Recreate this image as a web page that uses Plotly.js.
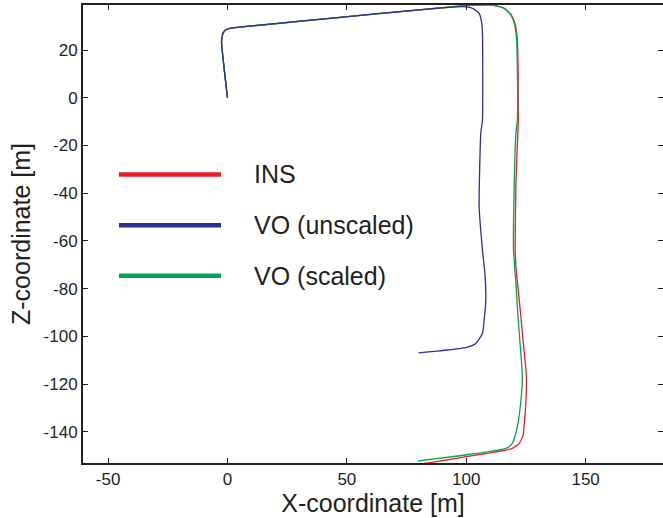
<!DOCTYPE html>
<html>
<head>
<meta charset="utf-8">
<script src="https://cdn.plot.ly/plotly-3.0.1.min.js"></script>
<style>html,body{margin:0;padding:0;background:#fff;}#chart{width:663px;height:518px;}</style>
</head>
<body>
<div id="chart"></div>
<script>
// Series names
const seriesNames = ["INS", "VO (unscaled)", "VO (scaled)"];
const seriesColors = ["#ed1c24", "#2e3192", "#00a651"];

// INS trajectory [m]
const insX = [0, -2.5, -2.3, -1.9, -0.7, 1.4, 4.9, 99.8, 109.6, 111.0, 115.9, 118.9, 120.4, 121.3, 121.7, 121.8, 121.6, 120.8, 120.5, 120.8, 122.2, 122.9, 123.5, 125.2, 125.0, 124.2, 123.8, 122.2, 119.3, 116.6, 82.4];
const insZ = [0, 23.5, 25.0, 27.0, 28.5, 29.2, 29.6, 38.7, 39.0, 38.9, 37.5, 34.7, 31.2, 25.6, 13.0, -9.4, -14.8, -35.8, -63.9, -71.0, -84.8, -91.9, -98.7, -117.0, -126.8, -137.9, -141.4, -144.9, -147.0, -147.7, -153.3];

// VO (unscaled) trajectory [m]
const voUnX = [0, -2.5, -2.3, -1.9, -0.7, 1.4, 4.9, 98.4, 102.6, 105.4, 106.5, 106.8, 106.9, 106.8, 106.1, 105.4, 106.8, 107.8, 108.2, 107.5, 106.8, 104.0, 99.8, 80.0];
const voUnZ = [0, 23.5, 25.0, 27.0, 28.5, 29.2, 29.6, 38.2, 37.5, 35.4, 31.2, 27.0, 13.0, -9.4, -14.8, -45.8, -63.9, -73.5, -84.8, -93.2, -98.7, -103.0, -104.7, -106.9];

// VO (scaled) trajectory [m]
const voScX = [0, -2.5, -2.3, -1.9, -0.7, 1.4, 4.9, 99.8, 109.6, 111.0, 115.9, 118.7, 120.1, 121.0, 121.4, 121.4, 120.8, 120.1, 119.8, 120.8, 121.7, 122.2, 123.5, 122.9, 121.4, 119.3, 116.6, 79.6];
const voScZ = [0, 23.5, 25.0, 27.0, 28.5, 29.2, 29.6, 38.7, 39.0, 38.9, 37.5, 34.7, 31.2, 25.6, 13.0, -9.4, -14.8, -35.8, -63.9, -77.7, -91.9, -98.7, -117.0, -126.8, -137.9, -144.9, -147.0, -152.3];

// Axis ticks
const xTicks = [-50, 0, 50, 100, 150];
const zTicks = [-140, -120, -100, -80, -60, -40, -20, 0, 20];

const lineStyle = (c) => ({color: c, width: 1.3, shape: 'spline', smoothing: 0.5});

const traces = [
  {x: insX, y: insZ, name: seriesNames[0], mode: 'lines', line: lineStyle(seriesColors[0])},
  {x: voScX, y: voScZ, name: seriesNames[2], mode: 'lines', line: lineStyle(seriesColors[2])},
  {x: voUnX, y: voUnZ, name: seriesNames[1], mode: 'lines', line: lineStyle(seriesColors[1])}
];

// Manual legend (paper coordinates)
const legendY = [0.630, 0.519, 0.409];
const legendOrder = [0, 1, 2];
const shapes = legendOrder.map((k, i) => ({
  type: 'line', xref: 'paper', yref: 'paper',
  x0: 0.062, x1: 0.238, y0: legendY[i], y1: legendY[i],
  line: {color: seriesColors[k], width: 4.5}
}));
const annotations = legendOrder.map((k, i) => ({
  xref: 'paper', yref: 'paper', x: 0.292, y: legendY[i],
  xanchor: 'left', yanchor: 'middle', showarrow: false,
  text: seriesNames[k], font: {size: 25, color: '#231f20'}
}));

const axisCommon = {
  showgrid: false, zeroline: false, showline: true, mirror: 'ticks',
  linecolor: '#231f20', linewidth: 2, ticks: 'inside', ticklen: 5,
  tickwidth: 1, tickcolor: '#231f20', tickfont: {size: 17, color: '#231f20'}
};

const layout = {
  width: 663, height: 518,
  margin: {l: 83, r: 0, t: 5, b: 55},
  paper_bgcolor: '#fff', plot_bgcolor: '#fff',
  font: {family: 'Liberation Sans, Arial, sans-serif', color: '#231f20'},
  showlegend: false,
  xaxis: Object.assign({}, axisCommon, {
    range: [-60.5, 182.4], tickvals: xTicks, ticktext: xTicks.map(String),
    title: {text: 'X-coordinate [m]', font: {size: 25}, standoff: 4}
  }),
  yaxis: Object.assign({}, axisCommon, {
    range: [-153.1, 38.9], tickvals: zTicks, ticktext: zTicks.map(String),
    title: {text: 'Z-coordinate [m]', font: {size: 25}, standoff: 6}
  }),
  shapes: shapes,
  annotations: annotations
};

Plotly.newPlot('chart', traces, layout, {displayModeBar: false, staticPlot: true});
</script>
</body>
</html>
